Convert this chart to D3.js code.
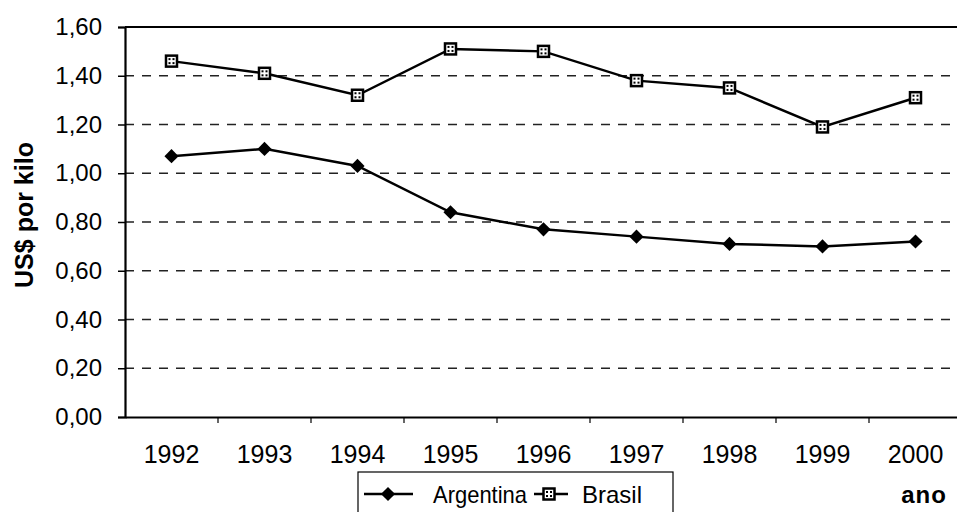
<!DOCTYPE html>
<html><head><meta charset="utf-8">
<script src="https://cdn.jsdelivr.net/npm/d3@7"></script>
<style>body{margin:0;background:#fff}svg{display:block;font-family:Arial,"Liberation Sans",sans-serif}</style>
</head><body><svg id="c" width="957" height="512"></svg>
<script>
const years = ["1992","1993","1994","1995","1996","1997","1998","1999","2000"];
const argentina = [1.07,1.10,1.03,0.84,0.77,0.74,0.71,0.70,0.72];
const brasil = [1.46,1.41,1.32,1.51,1.50,1.38,1.35,1.19,1.31];
const yTicks = [0,0.2,0.4,0.6,0.8,1.0,1.2,1.4,1.6];
const seriesNames = ["Argentina","Brasil"];

const svg = d3.select("#c");
const FF = "Arial, 'Liberation Sans', sans-serif";
const L=125, T=27, B=417, R=962;
const x = d3.scaleBand().domain(years).range([L,R]);
const y = d3.scaleLinear().domain([0,1.6]).range([B,T]);
const fmt = v => d3.format(".2f")(v).replace(".",",");

// gridlines
svg.append("g").selectAll("line").data(yTicks.filter(v=>v>0&&v<1.6)).join("line")
  .attr("x1",L).attr("x2",957).attr("y1",d=>y(d)).attr("y2",d=>y(d))
  .attr("stroke","#222").attr("stroke-width",1.5).attr("stroke-dasharray","9,8");
// top border
svg.append("line").attr("x1",L).attr("x2",957).attr("y1",T).attr("y2",T).attr("stroke","#000").attr("stroke-width",1.8);

// y axis
const ya = svg.append("g").attr("transform",`translate(${L},0)`)
  .call(d3.axisLeft(y).tickValues(yTicks).tickFormat(fmt).tickSize(7).tickPadding(16));
ya.select(".domain").attr("stroke","#000").attr("stroke-width",2.2);
ya.selectAll(".tick line").attr("stroke","#000").attr("stroke-width",1.5);
ya.selectAll("text").attr("font-size",24).attr("fill","#000").attr("font-family",FF);

// x axis
const xa = svg.append("g").attr("transform",`translate(0,${B})`)
  .call(d3.axisBottom(x).tickSize(0).tickPadding(28));
xa.select(".domain").attr("stroke","#000").attr("stroke-width",2.2);
xa.selectAll("text").attr("font-size",25).attr("fill","#000").attr("font-family",FF);
svg.append("g").selectAll("line").data(years.slice(1)).join("line")
  .attr("x1",d=>x(d)).attr("x2",d=>x(d)).attr("y1",B).attr("y2",B+6)
  .attr("stroke","#000").attr("stroke-width",1.2);

const cx = d=>x(d)+x.bandwidth()/2;
const line = d3.line().x((d,i)=>cx(years[i])).y(d=>y(d));
svg.append("path").datum(argentina).attr("d",line).attr("fill","none").attr("stroke","#000").attr("stroke-width",2.5);
svg.append("path").datum(brasil).attr("d",line).attr("fill","none").attr("stroke","#000").attr("stroke-width",2.5);

const diamond = d3.symbol().type(d3.symbolSquare).size(100);
function drawDiamond(g,px,py){
  g.append("path").attr("d",diamond()).attr("transform",`translate(${px},${py}) rotate(45)`).attr("fill","#000");
}
function drawSquare(g,px,py){
  g.append("rect").attr("x",px-5.5).attr("y",py-5.5).attr("width",11).attr("height",11).attr("fill","#fff").attr("stroke","#000").attr("stroke-width",2.5);
  [[-2,-2],[2,-2],[-2,2],[2,2]].forEach(([dx,dy])=>g.append("rect").attr("x",px+dx-1).attr("y",py+dy-1).attr("width",2).attr("height",2).attr("fill","#000"));
}
const mg = svg.append("g");
argentina.forEach((v,i)=>drawDiamond(mg,cx(years[i]),y(v)));
brasil.forEach((v,i)=>drawSquare(mg,cx(years[i]),y(v)));

// y title
svg.append("text").attr("transform","translate(33,215) rotate(-90)").attr("text-anchor","middle")
  .attr("font-family",FF).attr("font-size",25).attr("font-weight","bold").text("US$ por kilo");
// x title
svg.append("text").attr("x",924).attr("y",503).attr("text-anchor","middle").attr("font-family",FF)
  .attr("font-size",24).attr("font-weight","bold").attr("letter-spacing",1).text("ano");

// legend
const lg = svg.append("g");
lg.append("rect").attr("x",358).attr("y",472).attr("width",315).attr("height",50).attr("fill","none").attr("stroke","#000").attr("stroke-width",1.2);
lg.append("line").attr("x1",364).attr("x2",413).attr("y1",494).attr("y2",494).attr("stroke","#000").attr("stroke-width",2.5);
drawDiamond(lg,388,494);
lg.append("text").attr("x",433).attr("y",503).attr("font-family",FF).attr("font-size",24)
  .attr("textLength",94).attr("lengthAdjust","spacingAndGlyphs").text(seriesNames[0]);
lg.append("line").attr("x1",534).attr("x2",568).attr("y1",494).attr("y2",494).attr("stroke","#000").attr("stroke-width",2.5);
drawSquare(lg,549,494);
lg.append("text").attr("x",582).attr("y",503).attr("font-family",FF).attr("font-size",24).text(seriesNames[1]);
</script></body></html>
